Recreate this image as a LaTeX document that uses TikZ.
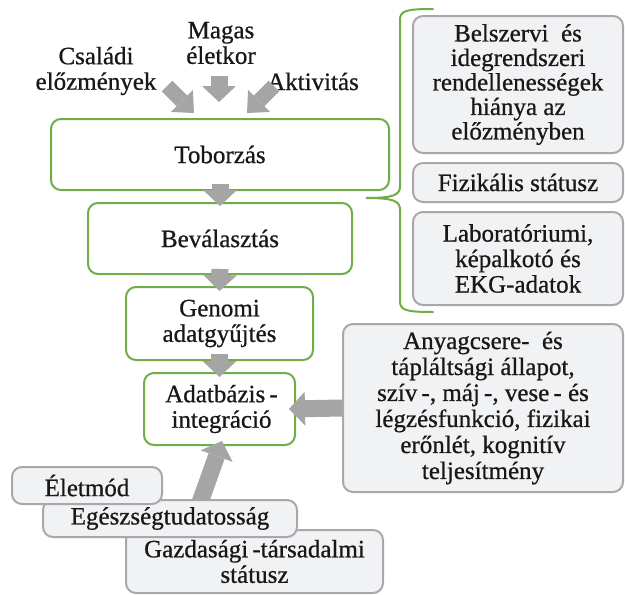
\documentclass[tikz,border=0pt]{standalone}
\usepackage{fontspec}
\setmainfont{Liberation Serif}[FakeBold=0.7]
\usetikzlibrary{arrows.meta}
\definecolor{boxgreen}{RGB}{112,173,71}
\definecolor{boxline}{RGB}{168,168,170}
\definecolor{boxfill}{RGB}{241,242,244}
\definecolor{arrowgray}{RGB}{165,165,165}
\definecolor{txt}{RGB}{25,23,23}
\tikzset{
  greenbox/.style={draw=boxgreen, line width=2pt, rounded corners=10pt, fill=white, inner sep=0pt, align=center, text=txt},
  graybox/.style={draw=boxline, line width=2pt, rounded corners=10pt, fill=boxfill, inner sep=0pt, align=center, text=txt},
  lbl/.style={inner sep=0pt, align=center, text=txt},
  barrow/.style={draw=arrowgray, line width=17pt, -{Triangle[width=34pt,length=16pt,line width=0pt]}},
  sarrow/.style={draw=arrowgray, line width=15pt, -{Triangle[width=31pt,length=17pt,line width=0pt]}},
  bracepath/.style={draw=boxgreen, line width=2pt, line cap=round}
}
\begin{document}
\begin{tikzpicture}[x=1pt,y=-1pt, font=\fontsize{25}{25.5}\selectfont]
\useasboundingbox (0,0) rectangle (625,595);

% top labels
\node[lbl] (mag) at (221,43) {Magas\\életkor};
\node[lbl] (csa) at (96,71) {Családi\\előzmények};
\node[lbl, anchor=base] (akt) at (313,90) {Aktivitás};

% main green boxes
\node[greenbox, minimum width=338pt, minimum height=71pt] (tob) at (220,154.5) {Toborzás};
\node[greenbox, minimum width=264pt, minimum height=71pt] (bev) at (220,238.5) {Beválasztás};
\node[greenbox, minimum width=187pt, minimum height=73pt] (gen) at (219.5,323.5) {Genomi\\adatgyűjtés};
\node[greenbox, minimum width=151pt, minimum height=72pt] (adb) at (219.5,409) {\hspace{4pt}Adatbázis\,-\\\hspace{4pt}integráció};

% right gray boxes
\node[graybox, minimum width=210pt, minimum height=137pt, font=\fontsize{25}{24.5}\selectfont] (bel) at (518,84.5) {Belszervi\ \ és\\idegrendszeri\\rendellenességek\\hiánya az\\előzményben};
\node[graybox, minimum width=210pt, minimum height=39pt] (fiz) at (518,182.5) {Fizikális státusz};
\node[graybox, minimum width=210pt, minimum height=93pt] (lab) at (518,258.5) {Laboratóriumi,\\képalkotó és\\EKG-adatok};
\node[graybox, minimum width=280pt, minimum height=168pt, font=\fontsize{25}{26}\selectfont] (any) at (483,408) {Anyagcsere-\ \ és\\tápláltsági állapot,\\szív\,-, máj\,-, vese\,- és\\légzésfunkció, fizikai\\erőnlét, kognitív\\teljesítmény};

% brace
\coordinate (b1) at (433,9);
\coordinate (btip) at (366,198);
\coordinate (b2) at (433,312);
\draw[bracepath] (b1) .. controls (405,9) and (400,11) .. (400,20) -- (400,186)
  .. controls (400,195) and (394,198) .. (btip)
  .. controls (394,198) and (400,201) .. (400,210) -- (400,301)
  .. controls (400,310) and (405,312) .. (b2);

% arrows
\coordinate (a1s) at (219,76);
\coordinate (a1e) at (219,102);
\coordinate (a2s) at (167,86);
\coordinate (a2e) at (194,113);
\coordinate (a3s) at (274,86);
\coordinate (a3e) at (247,113);
\draw[barrow] (a1s) -- (a1e);
\draw[sarrow] (a2s) -- (a2e);
\draw[sarrow] (a3s) -- (a3e);
\draw[barrow] ([yshift=7pt]tob.south) -- ([yshift=-4pt]bev.north);
\draw[barrow] ([yshift=6pt]bev.south) -- ([yshift=-5pt]gen.north);
\draw[barrow] ([yshift=7pt]gen.south) -- ([yshift=-5pt]adb.north);
\draw[barrow] (any.west) -- ([xshift=-7pt]adb.east);
\coordinate (a4s) at (198,508);
\draw[barrow] (a4s) -- ([xshift=2.5pt,yshift=5pt]adb.south);

% bottom gray boxes
\node[graybox, minimum width=257pt, minimum height=63pt] (gaz) at (254.5,561.5) {Gazdasági\,-társadalmi\\státusz};
\node[graybox, minimum width=254pt, minimum height=37pt] (ege) at (170,518.5) {Egészségtudatosság};
\node[graybox, minimum width=150pt, minimum height=37pt] (elet) at (87,485.5) {Életmód};
\end{tikzpicture}
\end{document}
